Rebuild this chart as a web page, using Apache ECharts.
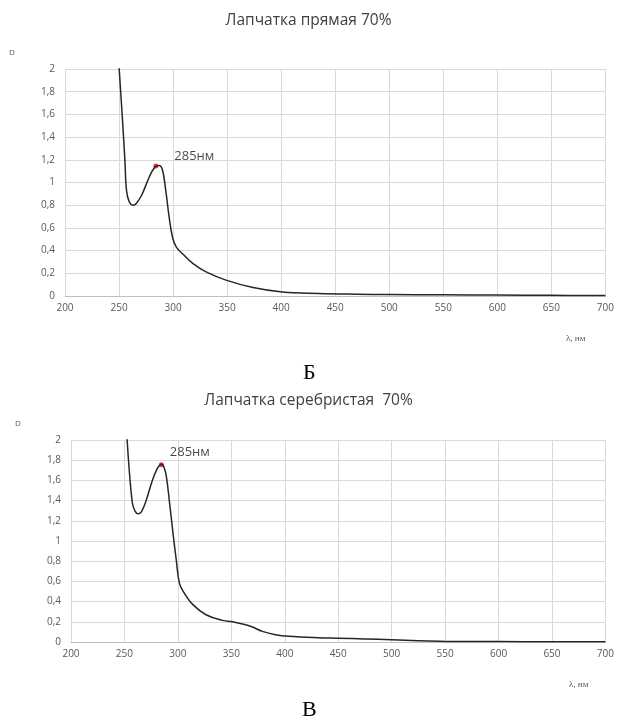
<!DOCTYPE html>
<html><head><meta charset="utf-8">
<script src="https://cdn.jsdelivr.net/npm/echarts@6/dist/echarts.min.js"></script>
<style>html,body{margin:0;padding:0;background:#fff}#c{width:617px;height:724px}</style>
</head><body><div id="c"></div>
<script>
const titleB = 'Лапчатка прямая 70%';
const titleV = 'Лапчатка серебристая  70%';
const peakLabel = '285нм';
const xTicks = [200,250,300,350,400,450,500,550,600,650,700];
const yTicks = [0,0.2,0.4,0.6,0.8,1,1.2,1.4,1.6,1.8,2];

const wavelengthB = [250,253,255.4,256.9,259.4,263,266,271,275.4,280,283.7,287,290.2,293.2,296.3,299.4,303,309,318.5,331,349,374,401,435,470,500,550,600,650,700];
const absorbanceB = [2.02,1.58,1.20,0.93,0.83,0.80,0.815,0.89,0.99,1.09,1.14,1.15,1.11,0.93,0.70,0.52,0.43,0.37,0.285,0.21,0.14,0.074,0.035,0.022,0.016,0.013,0.010,0.008,0.006,0.004];
const peakB = [284, 1.145];

const wavelengthV = [252.4,254.5,256.7,258.2,261.3,263,266,270.6,275.2,279.9,284.5,286.7,289.2,292.3,295.4,298.5,301.5,306.2,314,326.3,341.8,351,363.5,369.7,379,391.3,403.7,431.6,450,475,500,525,550,600,650,700];
const absorbanceV = [2.02,1.70,1.44,1.34,1.275,1.27,1.29,1.41,1.57,1.70,1.76,1.74,1.64,1.37,1.08,0.81,0.58,0.48,0.37,0.27,0.214,0.20,0.17,0.148,0.105,0.072,0.056,0.042,0.038,0.030,0.022,0.012,0.006,0.004,0.003,0.002];
const peakV = [284.5, 1.755];

const zip = (a,b) => a.map((v,i)=>[v,b[i]]);
const fontF = '"Open Sans", sans-serif';

function xAx(gi){
  return {type:'value', gridIndex:gi, min:200, max:700, interval:50,
    axisLine:{show:true, lineStyle:{color:'#bfbfbf'}}, axisTick:{show:false},
    axisLabel:{color:'#595959', fontSize:10, fontFamily:fontF, margin:7},
    splitLine:{show:true, lineStyle:{color:'#d9d9d9'}}};
}
function yAx(gi){
  return {type:'value', gridIndex:gi, min:0, max:2, interval:0.2,
    axisLine:{show:false}, axisTick:{show:false},
    axisLabel:{color:'#595959', fontSize:10, fontFamily:fontF, margin:10,
      formatter:v=>String(Math.round(v*10)/10).replace('.',',')},
    splitLine:{show:true, lineStyle:{color:'#d9d9d9'}}};
}

const chart = echarts.init(document.getElementById('c'), null, {renderer:'canvas'});
chart.setOption({
  animation:false,
  title:[
    {text:titleB, left:'center', top:8, textStyle:{fontFamily:fontF, fontWeight:'normal', fontSize:15.5, color:'#404040'}},
    {text:titleV, left:'center', top:388, textStyle:{fontFamily:fontF, fontWeight:'normal', fontSize:15.5, color:'#404040'}}
  ],
  grid:[
    {left:65, right:10, top:69, height:227},
    {left:71, right:10, top:440, height:202}
  ],
  xAxis:[xAx(0), xAx(1)],
  yAxis:[yAx(0), yAx(1)],
  graphic:[
    {type:'text', left:9, top:49, style:{text:'D', fontSize:8, fill:'#595959', fontFamily:fontF}},
    {type:'text', left:566, top:334, style:{text:'λ, нм', fontSize:9, fill:'#595959', fontFamily:'"Liberation Serif", serif'}},
    {type:'text', left:303, top:362, style:{text:'Б', fontSize:22, fill:'#000', fontFamily:'"Liberation Serif", serif'}},
    {type:'text', left:15, top:420, style:{text:'D', fontSize:8, fill:'#595959', fontFamily:fontF}},
    {type:'text', left:569, top:680, style:{text:'λ, нм', fontSize:9, fill:'#595959', fontFamily:'"Liberation Serif", serif'}},
    {type:'text', left:302, top:699, style:{text:'В', fontSize:22, fill:'#000', fontFamily:'"Liberation Serif", serif'}}
  ],
  series:[
    {type:'line', xAxisIndex:0, yAxisIndex:0, data:zip(wavelengthB, absorbanceB), smooth:0.4, showSymbol:false,
      lineStyle:{color:'#262626', width:1.5}, clip:true},
    {type:'scatter', xAxisIndex:0, yAxisIndex:0, data:[peakB], symbolSize:5, itemStyle:{color:'#ff0000'},
      label:{show:true, formatter:peakLabel, position:'right', offset:[11,-10], fontSize:13, color:'#1a1a1a', fontFamily:fontF}},
    {type:'line', xAxisIndex:1, yAxisIndex:1, data:zip(wavelengthV, absorbanceV), smooth:0.4, showSymbol:false,
      lineStyle:{color:'#262626', width:1.5}, clip:true},
    {type:'scatter', xAxisIndex:1, yAxisIndex:1, data:[peakV], symbolSize:5, itemStyle:{color:'#ff0000'},
      label:{show:true, formatter:peakLabel, position:'right', offset:[1,-12], fontSize:13, color:'#1a1a1a', fontFamily:fontF}}
  ]
});
</script></body></html>
